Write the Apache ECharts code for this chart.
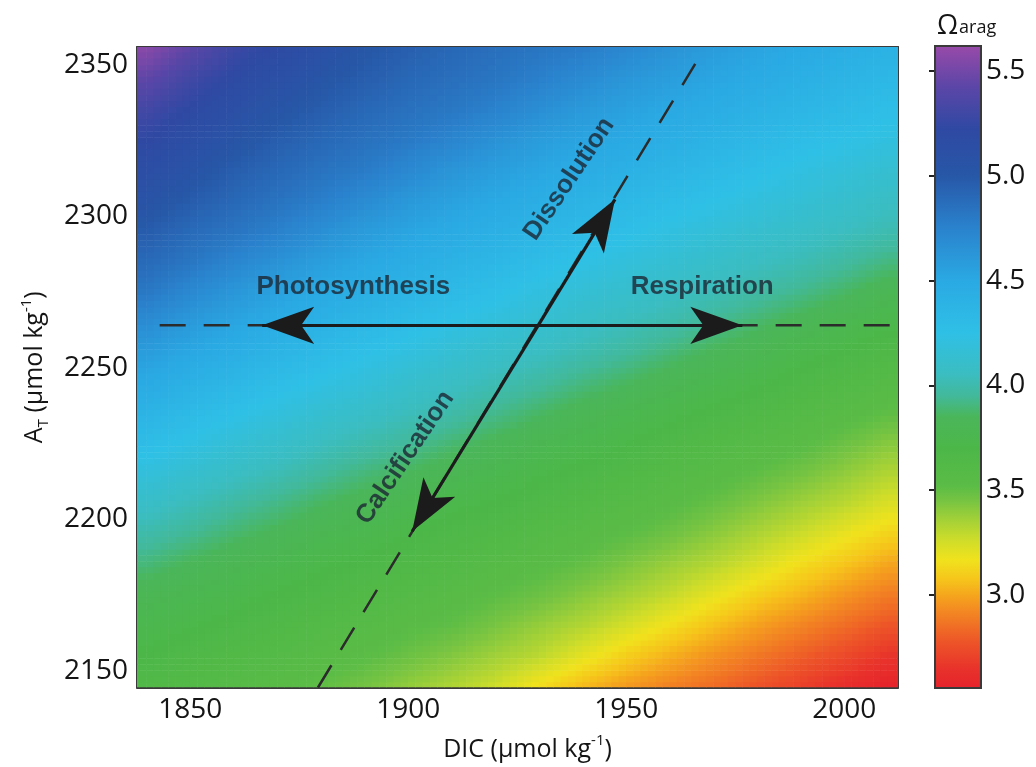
<!DOCTYPE html>
<html>
<head>
<meta charset="utf-8">
<script src="https://cdn.jsdelivr.net/npm/echarts@6/dist/echarts.min.js"></script>
<style>
html,body{margin:0;padding:0;background:#ffffff;}
#chart{width:1036px;height:767px;}
</style>
</head>
<body>
<div id="chart"></div>
<script>
// Cell centres of the saturation-state field
const dicLevels = [1840, 1850, 1860, 1870, 1880, 1890, 1900, 1910, 1920, 1930, 1940, 1950, 1960, 1970, 1980, 1990, 2000, 2010];
const atLevels = [2145, 2155, 2165, 2175, 2185, 2195, 2205, 2215, 2225, 2235, 2245, 2255, 2265, 2275, 2285, 2295, 2305, 2315, 2325, 2335, 2345, 2355];

// Aragonite saturation state, one row per A_T level (2145 first), one column per DIC level
const omegaRows = [
  [3.64, 3.61, 3.58, 3.55, 3.51, 3.46, 3.40, 3.34, 3.27, 3.16, 3.06, 2.98, 2.91, 2.85, 2.78, 2.71, 2.63, 2.57],
  [3.70, 3.66, 3.63, 3.60, 3.56, 3.53, 3.48, 3.43, 3.37, 3.31, 3.21, 3.11, 3.03, 2.95, 2.88, 2.81, 2.74, 2.66],
  [3.75, 3.72, 3.68, 3.65, 3.61, 3.58, 3.54, 3.51, 3.45, 3.39, 3.33, 3.25, 3.16, 3.07, 2.99, 2.92, 2.85, 2.78],
  [3.80, 3.77, 3.74, 3.70, 3.67, 3.63, 3.60, 3.56, 3.52, 3.48, 3.42, 3.36, 3.29, 3.20, 3.11, 3.04, 2.96, 2.89],
  [3.90, 3.84, 3.79, 3.76, 3.72, 3.69, 3.65, 3.62, 3.58, 3.54, 3.50, 3.44, 3.38, 3.32, 3.24, 3.15, 3.08, 3.00],
  [3.99, 3.94, 3.88, 3.83, 3.78, 3.75, 3.71, 3.67, 3.64, 3.60, 3.56, 3.52, 3.47, 3.41, 3.34, 3.27, 3.19, 3.12],
  [4.09, 4.03, 3.97, 3.92, 3.86, 3.81, 3.77, 3.73, 3.70, 3.66, 3.62, 3.58, 3.54, 3.49, 3.43, 3.37, 3.31, 3.23],
  [4.19, 4.13, 4.07, 4.02, 3.96, 3.90, 3.85, 3.79, 3.76, 3.72, 3.68, 3.64, 3.60, 3.56, 3.51, 3.46, 3.40, 3.33],
  [4.29, 4.23, 4.16, 4.11, 4.05, 4.00, 3.95, 3.89, 3.83, 3.78, 3.75, 3.71, 3.66, 3.62, 3.58, 3.54, 3.48, 3.42],
  [4.39, 4.32, 4.26, 4.20, 4.14, 4.09, 4.04, 3.99, 3.93, 3.87, 3.81, 3.77, 3.73, 3.69, 3.65, 3.60, 3.56, 3.51],
  [4.49, 4.42, 4.35, 4.29, 4.23, 4.18, 4.12, 4.07, 4.02, 3.97, 3.91, 3.86, 3.80, 3.76, 3.72, 3.67, 3.63, 3.58],
  [4.58, 4.51, 4.45, 4.38, 4.32, 4.26, 4.21, 4.15, 4.10, 4.06, 4.01, 3.96, 3.90, 3.84, 3.79, 3.74, 3.70, 3.65],
  [4.69, 4.60, 4.53, 4.47, 4.41, 4.35, 4.29, 4.24, 4.19, 4.14, 4.09, 4.04, 4.00, 3.94, 3.88, 3.82, 3.77, 3.73],
  [4.81, 4.71, 4.62, 4.55, 4.49, 4.44, 4.38, 4.32, 4.27, 4.21, 4.16, 4.12, 4.07, 4.03, 3.98, 3.93, 3.87, 3.80],
  [4.89, 4.82, 4.73, 4.65, 4.57, 4.51, 4.46, 4.40, 4.35, 4.29, 4.24, 4.19, 4.15, 4.10, 4.06, 4.02, 3.97, 3.91],
  [4.97, 4.89, 4.83, 4.76, 4.67, 4.59, 4.53, 4.48, 4.43, 4.37, 4.32, 4.27, 4.22, 4.17, 4.13, 4.09, 4.05, 4.01],
  [5.06, 4.97, 4.90, 4.84, 4.77, 4.69, 4.61, 4.55, 4.50, 4.45, 4.39, 4.34, 4.29, 4.25, 4.20, 4.16, 4.12, 4.07],
  [5.14, 5.05, 4.96, 4.90, 4.84, 4.79, 4.71, 4.63, 4.57, 4.52, 4.47, 4.42, 4.37, 4.32, 4.27, 4.22, 4.18, 4.14],
  [5.22, 5.13, 5.04, 4.96, 4.90, 4.85, 4.80, 4.73, 4.65, 4.58, 4.53, 4.49, 4.44, 4.39, 4.34, 4.29, 4.25, 4.21],
  [5.31, 5.21, 5.12, 5.03, 4.96, 4.90, 4.85, 4.81, 4.75, 4.67, 4.60, 4.55, 4.50, 4.46, 4.41, 4.36, 4.32, 4.27],
  [5.43, 5.30, 5.20, 5.11, 5.02, 4.96, 4.90, 4.86, 4.82, 4.76, 4.69, 4.62, 4.57, 4.52, 4.48, 4.43, 4.38, 4.34],
  [5.56, 5.42, 5.28, 5.19, 5.10, 5.01, 4.95, 4.90, 4.86, 4.82, 4.78, 4.71, 4.64, 4.58, 4.53, 4.49, 4.45, 4.40]
];

// Axis extents and tick labels
const dicRange = [1837.8, 2012.3];
const atRange = [2144.4, 2355.9];
const dicTicks = [1850, 1900, 1950, 2000];
const atTicks = [2150, 2200, 2250, 2300, 2350];
const omegaRange = [2.555, 5.62];
const omegaTicks = [3.0, 3.5, 4.0, 4.5, 5.0, 5.5];

// Process vectors in (DIC, A_T) space, all starting from one common point
const processOrigin = [1929.8, 2264];
const processNames = ['Photosynthesis', 'Respiration', 'Dissolution', 'Calcification'];
const processTips = [[1866.5, 2264], [1976.6, 2264], [1947.4, 2305.6], [1900.9, 2196]];
const processLabelAt = [[1887.4, 2276.7], [1967.4, 2276.7], [1936.9, 2312.3], [1899.3, 2220.3]];
const processLabelAngle = [0, 0, 56, 56];

// Dashed guide lines through the origin point
const horizontalGuide = [[1843, 2264], [2010.5, 2264]];
const diagonalGuide = [[1879.3, 2144.4], [1965.8, 2350.3]];

// Colour scale for Ω_arag: [value, colour]
const colourStops = [
  [2.555, '#e5222b'], [2.65, '#e8322b'], [2.78, '#ed5528'], [2.93, '#f38a22'],
  [3.00, '#f5a51d'], [3.08, '#f6c61b'], [3.17, '#f0e21d'], [3.26, '#d0dd29'],
  [3.36, '#a3d137'], [3.45, '#77c442'], [3.52, '#5bbc46'], [3.70, '#4cb748'],
  [3.85, '#4ab65a'], [3.95, '#42b99a'], [4.05, '#3bbdc0'], [4.25, '#2fc0e6'],
  [4.50, '#2aa9e3'], [4.75, '#2a82cd'], [5.00, '#2757a7'], [5.22, '#2f49a3'],
  [5.42, '#5b46a7'], [5.62, '#9a4aa9']
];

function hexToRgb(h) {
  return [parseInt(h.slice(1, 3), 16), parseInt(h.slice(3, 5), 16), parseInt(h.slice(5, 7), 16)];
}
const stopRgb = colourStops.map(s => hexToRgb(s[1]));
function colourAt(v) {
  if (v <= colourStops[0][0]) return colourStops[0][1];
  for (let i = 1; i < colourStops.length; i++) {
    if (v <= colourStops[i][0]) {
      const t = (v - colourStops[i - 1][0]) / (colourStops[i][0] - colourStops[i - 1][0]);
      const ca = stopRgb[i - 1], cb = stopRgb[i];
      return 'rgb(' + ca.map((x, k) => Math.round(x + (cb[k] - x) * t)).join(',') + ')';
    }
  }
  return colourStops[colourStops.length - 1][1];
}
const barGradientStops = colourStops.slice().reverse().map(s => ({
  offset: Math.min(1, Math.max(0, (omegaRange[1] - s[0]) / (omegaRange[1] - omegaRange[0]))),
  color: s[1]
}));

// One item per cell: [DIC, A_T, Ω, row, column]
const cells = [];
atLevels.forEach((at, i) => {
  dicLevels.forEach((dic, j) => {
    cells.push([dic, at, omegaRows[i][j], i, j]);
  });
});
const dicStep = dicLevels[1] - dicLevels[0];
const atStep = atLevels[1] - atLevels[0];

// Smooth shading inside a cell: blend with neighbouring cells
function shadedValue(dic, at) {
  let fi = (at - atLevels[0]) / atStep;
  let fj = (dic - dicLevels[0]) / dicStep;
  fi = Math.max(0, Math.min(atLevels.length - 1, fi));
  fj = Math.max(0, Math.min(dicLevels.length - 1, fj));
  const i0 = Math.min(Math.floor(fi), atLevels.length - 2), j0 = Math.min(Math.floor(fj), dicLevels.length - 2);
  const ti = fi - i0, tj = fj - j0;
  const a = omegaRows[i0][j0], b = omegaRows[i0][j0 + 1];
  const c = omegaRows[i0 + 1][j0], d = omegaRows[i0 + 1][j0 + 1];
  return (a * (1 - tj) + b * tj) * (1 - ti) + (c * (1 - tj) + d * tj) * ti;
}
const SUB_X = 6, SUB_Y = 5;

const tickFont = 'Open Sans';
const textColour = '#151515';
const frameColour = '#3a3a3a';

const chart = echarts.init(document.getElementById('chart'), null, { renderer: 'canvas' });

chart.setOption({
  animation: false,
  backgroundColor: '#ffffff',
  title: {
    text: '{o|Ω}{s|arag}',
    left: 932,
    top: 4,
    textStyle: {
      fontWeight: 'normal',
      rich: {
        o: { fontFamily: tickFont, fontSize: 27, fontWeight: 'normal', color: textColour, lineHeight: 34 },
        s: { fontFamily: tickFont, fontSize: 18, fontWeight: 'normal', color: textColour, lineHeight: 34, padding: [4, 0, 0, 1] }
      }
    }
  },
  grid: [
    { left: 137, top: 47, width: 761, height: 641, containLabel: false },
    { left: 935, top: 46, width: 46, height: 642, containLabel: false }
  ],
  xAxis: [
    {
      gridIndex: 0, type: 'value', min: dicRange[0], max: dicRange[1], position: 'bottom',
      axisLine: { show: true, onZero: false, lineStyle: { color: frameColour, width: 2 } },
      axisTick: { show: false },
      splitLine: { show: false },
      axisLabel: {
        customValues: dicTicks, margin: 9,
        fontFamily: tickFont, fontSize: 28, color: textColour,
        formatter: v => String(v)
      },
      name: '{t|DIC (µmol kg}{sup|-1}{t|)}',
      nameLocation: 'middle', nameGap: 46,
      nameTextStyle: {
        padding: [0, 0, 0, 20],
        rich: {
          t: { fontFamily: tickFont, fontSize: 25, color: textColour, lineHeight: 32 },
          sup: { fontFamily: tickFont, fontSize: 15, color: textColour, lineHeight: 18, verticalAlign: 'top' }
        }
      }
    },
    {
      gridIndex: 0, type: 'value', min: dicRange[0], max: dicRange[1], position: 'top',
      axisLine: { show: true, onZero: false, lineStyle: { color: frameColour, width: 2 } },
      axisTick: { show: false }, axisLabel: { show: false }, splitLine: { show: false }
    },
    {
      gridIndex: 1, type: 'value', min: 0, max: 1, show: false
    }
  ],
  yAxis: [
    {
      gridIndex: 0, type: 'value', min: atRange[0], max: atRange[1], position: 'left',
      axisLine: { show: true, onZero: false, lineStyle: { color: frameColour, width: 2 } },
      axisTick: { show: false },
      splitLine: { show: false },
      axisLabel: {
        customValues: atTicks, margin: 9,
        fontFamily: tickFont, fontSize: 28, color: textColour,
        formatter: v => String(v)
      },
      name: '{t|A}{sub|T}{t| (µmol kg}{sup|-1}{t|)}',
      nameLocation: 'middle', nameGap: 86, nameRotate: 90,
      nameTextStyle: {
        rich: {
          t: { fontFamily: tickFont, fontSize: 25, color: textColour, lineHeight: 32 },
          sub: { fontFamily: tickFont, fontSize: 15, color: textColour, lineHeight: 18, verticalAlign: 'bottom' },
          sup: { fontFamily: tickFont, fontSize: 15, color: textColour, lineHeight: 18, verticalAlign: 'top' }
        }
      }
    },
    {
      gridIndex: 0, type: 'value', min: atRange[0], max: atRange[1], position: 'right',
      axisLine: { show: true, onZero: false, lineStyle: { color: frameColour, width: 2 } },
      axisTick: { show: false }, axisLabel: { show: false }, splitLine: { show: false }
    },
    {
      gridIndex: 1, type: 'value', min: omegaRange[0], max: omegaRange[1], position: 'right',
      axisLine: { show: false },
      splitLine: { show: false },
      axisTick: {
        show: true, inside: true, length: 6, customValues: omegaTicks,
        lineStyle: { color: '#222', width: 2 }
      },
      axisLabel: {
        customValues: omegaTicks, margin: 5,
        fontFamily: tickFont, fontSize: 28, color: textColour,
        formatter: v => v.toFixed(1)
      }
    },
    {
      gridIndex: 1, type: 'value', min: omegaRange[0], max: omegaRange[1], position: 'left',
      axisLine: { show: false },
      splitLine: { show: false },
      axisTick: {
        show: true, inside: true, length: 6, customValues: omegaTicks,
        lineStyle: { color: '#222', width: 2 }
      },
      axisLabel: { show: false }
    }
  ],
  series: [
    {
      // Ω_arag field, each cell shaded towards its neighbours
      type: 'custom',
      xAxisIndex: 0, yAxisIndex: 0,
      data: cells,
      encode: { x: 0, y: 1 },
      clip: true,
      silent: true,
      z: 1,
      renderItem: function (params, api) {
        const dic = api.value(0), at = api.value(1);
        const box = { x: params.coordSys.x, y: params.coordSys.y, width: params.coordSys.width, height: params.coordSys.height };
        const children = [];
        const dW = dicStep / SUB_X, dH = atStep / SUB_Y;
        for (let a = 0; a < SUB_X; a++) {
          for (let b = 0; b < SUB_Y; b++) {
            const d0 = dic - dicStep / 2 + a * dW;
            const t1 = at + atStep / 2 - b * dH;
            const p0 = api.coord([d0, t1]);
            const p1 = api.coord([d0 + dW, t1 - dH]);
            const r = echarts.graphic.clipRectByRect(
              { x: p0[0] - 0.3, y: p0[1] - 0.3, width: p1[0] - p0[0] + 0.6, height: p1[1] - p0[1] + 0.6 },
              box
            );
            if (!r) continue;
            const v = shadedValue(d0 + dW / 2, t1 - dH / 2);
            children.push({ type: 'rect', shape: r, style: { fill: colourAt(v) } });
          }
        }
        return { type: 'group', children: children };
      }
    },
    {
      // colour bar
      type: 'custom',
      xAxisIndex: 2, yAxisIndex: 2,
      data: [[0]],
      silent: true,
      z: 1,
      renderItem: function (params, api) {
        const p0 = api.coord([0, omegaRange[1]]);
        const p1 = api.coord([1, omegaRange[0]]);
        return {
          type: 'rect',
          shape: { x: p0[0], y: p0[1], width: p1[0] - p0[0], height: p1[1] - p0[1] },
          style: {
            fill: new echarts.graphic.LinearGradient(0, 0, 0, 1, barGradientStops),
            stroke: frameColour, lineWidth: 2
          }
        };
      }
    },
    {
      type: 'line', xAxisIndex: 0, yAxisIndex: 0,
      data: horizontalGuide, symbol: 'none', silent: true, z: 3,
      lineStyle: { color: '#2b2b2b', width: 2.5, type: [26, 18] }
    },
    {
      type: 'line', xAxisIndex: 0, yAxisIndex: 0,
      data: diagonalGuide, symbol: 'none', silent: true, z: 3,
      lineStyle: { color: '#2b2b2b', width: 2.5, type: [26, 18] }
    },
    {
      // process arrows
      type: 'line', xAxisIndex: 0, yAxisIndex: 0,
      data: [processOrigin], symbol: 'none', silent: true, z: 4,
      lineStyle: { width: 0 },
      markLine: {
        silent: true,
        animation: false,
        symbol: ['none', 'arrow'],
        lineStyle: { color: '#1b1b1b', width: 3.2, type: 'solid' },
        label: { show: false },
        emphasis: { disabled: true },
        data: processTips.map(tip => [
          { coord: processOrigin, symbol: 'none' },
          { coord: tip, symbol: 'arrow', symbolSize: [28, 52] }
        ])
      }
    },
    {
      // process labels
      type: 'scatter', xAxisIndex: 0, yAxisIndex: 0,
      symbolSize: 0, silent: true, z: 6,
      data: processNames.map((n, i) => ({
        name: n,
        value: processLabelAt[i],
        label: { rotate: processLabelAngle[i] }
      })),
      label: {
        show: true, position: 'inside', formatter: '{b}',
        fontFamily: 'Liberation Sans', fontWeight: 'bold', fontSize: 26, color: '#1c2733'
      }
    }
  ]
});
</script>
</body>
</html>
